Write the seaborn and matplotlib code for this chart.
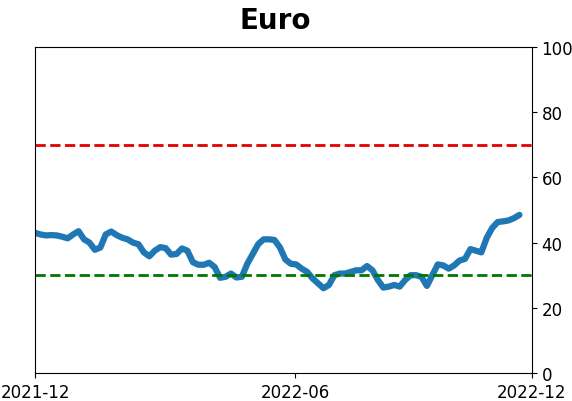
import pandas as pd
import matplotlib
matplotlib.use("Agg")
import matplotlib.pyplot as plt
import matplotlib.dates as mdates
import seaborn as sns

# sentiment reading, one value every 4 days starting 2021-12-01
start_date = "2021-12-01"
values = [
    43.0, 42.5, 42.2, 42.3, 42.2, 41.8, 41.3, 42.5, 43.5, 41.0,
    40.0, 37.8, 38.5, 42.5, 43.4, 42.3, 41.5, 41.0, 40.0, 39.5,
    37.0, 35.8, 37.5, 38.6, 38.3, 36.3, 36.5, 38.2, 37.5, 34.0,
    33.2, 33.2, 33.8, 32.5, 29.2, 29.5, 30.5, 29.3, 29.5, 33.5,
    36.5, 39.5, 41.0, 41.0, 40.8, 38.5, 34.8, 33.5, 33.3, 32.0,
    31.0, 29.0, 27.5, 26.0, 27.0, 30.0, 30.5, 30.5, 31.0, 31.5,
    31.5, 32.8, 31.5, 28.5, 26.2, 26.5, 27.0, 26.5, 28.5, 30.0,
    30.0, 29.5, 26.7, 30.0, 33.3, 33.0, 32.0, 33.0, 34.5, 35.0,
    38.0, 37.5, 37.0, 41.5, 44.5, 46.3, 46.5, 46.8, 47.5, 48.5,
]
upper_level = 70
lower_level = 30
tick_dates = ["2021-12-01", "2022-06-10", "2022-12-01"]

df = pd.DataFrame({
    "date": pd.date_range(start_date, periods=len(values), freq="4D"),
    "value": values,
})

sns.set_style("ticks")
plt.rcParams["font.family"] = ["DejaVu Sans"]
plt.rcParams["text.color"] = "black"
plt.rcParams["xtick.color"] = "black"
plt.rcParams["ytick.color"] = "black"

fig = plt.figure(figsize=(5.72, 4.02), dpi=100)
ax = fig.add_axes([0.0612, 0.0697, 0.8683, 0.8109])

sns.lineplot(data=df, x="date", y="value", ax=ax, color="#1f77b4", linewidth=4.5)
ax.axhline(upper_level, color="#e00000", linestyle="--", linewidth=2)
ax.axhline(lower_level, color="#007700", linestyle="--", linewidth=2)

ax.set_ylim(0, 100)
ax.set_xlim(pd.Timestamp(tick_dates[0]), pd.Timestamp(tick_dates[-1]))
ax.set_xticks(pd.to_datetime(tick_dates))
ax.xaxis.set_major_formatter(mdates.DateFormatter("%Y-%m"))
ax.yaxis.tick_right()
ax.tick_params(labelsize=12, colors="black")
ax.set_xlabel("")
ax.set_ylabel("")
for side in ["top", "right", "left", "bottom"]:
    ax.spines[side].set_visible(True)
    ax.spines[side].set_color("black")
ax.set_title("Euro", fontsize=20, fontweight="bold", pad=14, x=0.483, color="black")

fig.savefig("out.png", dpi=100)
